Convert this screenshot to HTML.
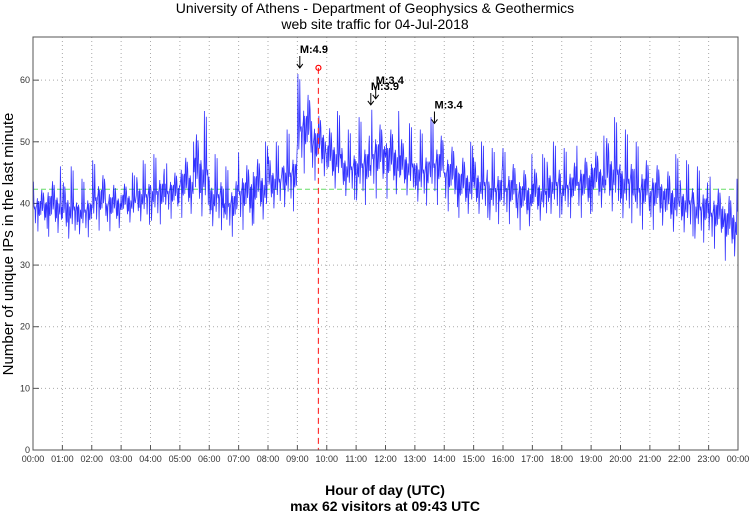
<!DOCTYPE html>
<html><head><meta charset="utf-8"><style>
body{margin:0;background:#fff;width:750px;height:515px;overflow:hidden}
text{font-family:"Liberation Sans",sans-serif}
</style></head><body>
<svg id="c" width="750" height="515">
<text x="375" y="13" text-anchor="middle" font-size="14">University of Athens - Department of Geophysics &amp; Geothermics</text>
<text x="375" y="29" text-anchor="middle" font-size="14">web site traffic for 04-Jul-2018</text>
<text x="385" y="495" text-anchor="middle" font-size="14" font-weight="bold">Hour of day (UTC)</text>
<text x="385" y="511" text-anchor="middle" font-size="14" font-weight="bold">max 62 visitors at 09:43 UTC</text>
<text transform="translate(13,244) rotate(-90)" text-anchor="middle" font-size="15">Number of unique IPs in the last minute</text>
<g id="grid"></g><g id="series"></g><g id="marks"></g>
<rect x="33" y="37" width="705" height="413" fill="none" stroke="#555" stroke-width="1"/>
</svg>
<script>
const hourLabels=["00:00","01:00","02:00","03:00","04:00","05:00","06:00","07:00","08:00","09:00","10:00","11:00","12:00","13:00","14:00","15:00","16:00","17:00","18:00","19:00","20:00","21:00","22:00","23:00","00:00"];
const yTicks=[0,10,20,30,40,50,60];
const binHigh=[44,46,46,44,47,45,45,47,48,47,50,55,48,46,49,50,50,52,61,57,55,52,54,56,55,53,52,54,52,50,50,49,49,48,48,50,49,50,51,54,52,50,49,48,47,46,45,44];
const binLow=[35,34,33,34,35,35,36,36,36,37,37,36,35,34,35,36,38,38,44,43,41,40,39,40,40,40,39,39,38,37,37,36,36,35,36,37,37,37,38,37,36,35,35,34,34,33,32,30];
const meanValue=42.3;
const maxMinute=9*60+43, maxValue=62;
const quakeLabels=["M:4.9","M:3.9","M:3.4","M:3.4"];
const quakeMinutes=[545,690,700,820];
const quakeValues=[61,55,56,52];
const L=33,R=738,T=37,B=450,YMAX=67;
const X=m=>L+(R-L)*m/1440, Y=v=>B-(B-T)*v/YMAX;
const ns="http://www.w3.org/2000/svg";
function mk(p,tag,a){const e=document.createElementNS(ns,tag);for(const k in a)e.setAttribute(k,a[k]);document.getElementById(p).appendChild(e);return e;}
hourLabels.forEach((h,i)=>{const x=X(i*60);
 if(i>0&&i<24){const g=mk('grid','line',{x1:x,x2:x,y1:T,y2:B,stroke:'#aaa','stroke-dasharray':'1,3'});}
 mk('grid','line',{x1:x,x2:x,y1:B,y2:B-5,stroke:'#555'});
 const tx=mk('grid','text',{x:x,y:B+12,'text-anchor':'middle','font-size':'9',fill:'#333'});tx.textContent=h;
 });
yTicks.forEach(v=>{const y=Y(v);
 if(v>0){const g=mk('grid','line',{x1:L,x2:R,y1:y,y2:y,stroke:'#aaa','stroke-dasharray':'1,3'});}
 mk('grid','line',{x1:L,x2:L+6,y1:y,y2:y,stroke:'#555'});
 const tx=mk('grid','text',{x:L-3,y:y+3,'text-anchor':'end','font-size':'9',fill:'#333'});tx.textContent=v;
 });
const mean=mk('series','line',{x1:L,x2:R,y1:Y(meanValue),y2:Y(meanValue),stroke:'#6d6','stroke-dasharray':'5,3'});

const pat=[0.45,0.6,0.3,0.55,0.4,0.95,0.35,0.5,0.65,0.25,0.5,0.7,0.4,0.05,0.55,0.45,0.8,0.35,0.6,0.3,0.5,0.42,1,0.38,0.58,0.2,0.48,0.62,0.33,0.52,0.44,0.75,0.28,0.57,0.1,0.5,0.66];
let pts=[];
for(let m=0;m<1440;m++){const b=Math.floor(m/30);const lo=binLow[b],hi=binHigh[b];
 const f=pat[(m*5+b)%pat.length];pts.push(X(m).toFixed(1)+','+Y(lo+(hi-lo)*f).toFixed(1));}
const pl=mk('series','polyline',{points:pts.join(' '),fill:'none',stroke:'#00f','stroke-width':'0.8','stroke-opacity':'0.8'});

const mx=X(maxMinute);
const ml=mk('marks','line',{x1:mx,x2:mx,y1:Y(maxValue),y2:B,stroke:'#f33','stroke-dasharray':'6,4','stroke-width':'1.2'});

const mc=mk('marks','circle',{cx:mx,cy:Y(maxValue),r:2.5,fill:'none',stroke:'#f00','stroke-width':'1.2'});

quakeLabels.forEach((q,i)=>{const x=X(quakeMinutes[i]),y=Y(quakeValues[i])-6;
 const a=mk('marks','path',{d:`M${x},${y-12}V${y}M${x-3},${y-4}L${x},${y}L${x+3},${y-4}`,stroke:'#000',fill:'none','stroke-width':'1'});
 
 const t=mk('marks','text',{x:x,y:y-15,'font-size':'11','font-weight':'bold'});t.textContent=q;
 });
</script>
</body></html>
